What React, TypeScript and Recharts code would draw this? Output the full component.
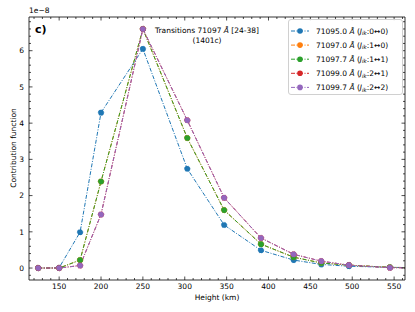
import React from "react";
import { LineChart, Line, XAxis, YAxis } from "recharts";

// heights in km, values in units of 1e-8
const heights = [125, 150, 175, 200, 250, 303, 347, 391, 430, 463, 496, 545, 600];
const cf71095_0 = [0, 0.01, 0.99, 4.29, 6.05, 2.74, 1.19, 0.49, 0.22, 0.1, 0.05, 0.02, 0];
const cf71097_0 = [0, 0, 0.22, 2.39, 6.6, 3.59, 1.6, 0.66, 0.3, 0.14, 0.08, 0.02, 0];
const cf71097_7 = [0, 0, 0.22, 2.39, 6.6, 3.59, 1.6, 0.66, 0.3, 0.14, 0.08, 0.02, 0];
const cf71099_0 = [0, 0, 0.07, 1.48, 6.6, 4.08, 1.94, 0.83, 0.38, 0.19, 0.08, 0.01, 0];
const cf71099_7 = [0, 0, 0.07, 1.48, 6.6, 4.08, 1.94, 0.83, 0.38, 0.19, 0.08, 0.01, 0];

const xMajorTicks = [150, 200, 250, 300, 350, 400, 450, 500, 550];
const yMajorTicks = [0, 1, 2, 3, 4, 5, 6];

const series = [
  { key: "a", wl: "71095.0", j: "0\u21940", color: "#1f77b4", values: cf71095_0 },
  { key: "b", wl: "71097.0", j: "1\u21940", color: "#ff7f0e", values: cf71097_0 },
  { key: "c", wl: "71097.7", j: "1\u21941", color: "#2ca02c", values: cf71097_7 },
  { key: "d", wl: "71099.0", j: "2\u21941", color: "#d62728", values: cf71099_0 },
  { key: "e", wl: "71099.7", j: "2\u21942", color: "#9467bd", values: cf71099_7 },
];

const rows = heights.map((h, i) => {
  const r: Record<string, number> = { h };
  series.forEach((s) => (r[s.key] = s.values[i]));
  return r;
});

// minor ticks: every 10 km and every 0.2e-8
const xTicks: number[] = [];
for (let v = 120; v <= 560; v += 10) xTicks.push(v);
const yTicks: number[] = [];
for (let k = -1; k <= 34; k++) yTicks.push(k / 5);

const FONT = "'DejaVu Sans', sans-serif";
const X_DOMAIN = [114, 563];
const Y_DOMAIN = [-0.33, 6.93];
const isMajorX = (v: number) => xMajorTicks.includes(v);
const isMajorY = (v: number) => Math.abs(v - Math.round(v)) < 1e-6 && yMajorTicks.includes(Math.round(v));

const XTick = (side: "bottom" | "top") => (p: any) => {
  const { x, y, payload } = p;
  const len = isMajorX(payload.value) ? 3.5 : 2;
  const dir = side === "bottom" ? -1 : 1;
  return (
    <g>
      <line x1={x} x2={x} y1={y} y2={y + dir * len} stroke="#000" strokeWidth={0.7} />
      {side === "bottom" && isMajorX(payload.value) && (
        <text x={x} y={y + 9} textAnchor="middle" fontSize={7.5} fontFamily={FONT} fill="#000">
          {payload.value}
        </text>
      )}
    </g>
  );
};

const YTick = (side: "left" | "right") => (p: any) => {
  const { x, y, payload } = p;
  const major = isMajorY(payload.value);
  const len = major ? 3.5 : 2;
  const dir = side === "left" ? 1 : -1;
  return (
    <g>
      <line x1={x} x2={x + dir * len} y1={y} y2={y} stroke="#000" strokeWidth={0.7} />
      {side === "left" && major && (
        <text x={x - 5} y={y + 2.7} textAnchor="end" fontSize={7.5} fontFamily={FONT} fill="#000">
          {Math.round(payload.value)}
        </text>
      )}
    </g>
  );
};

const LegendBox = () => (
  <div
    style={{
      position: "absolute",
      left: 288,
      top: 19,
      border: "1px solid #d0d0d0",
      borderRadius: 3,
      background: "rgba(255,255,255,0.85)",
      width: 115,
      height: 76,
      boxSizing: "border-box",
    }}
  >
    <svg width={113} height={74} style={{ display: "block" }}>
      {series.map((s, i) => {
        const cy = 11 + i * 14.1;
        return (
          <g key={s.key}>
            <line x1={2} x2={20} y1={cy} y2={cy} stroke={s.color} strokeWidth={1} strokeDasharray="4 1.5 1 1.5" />
            <circle cx={11} cy={cy} r={2.8} fill={s.color} />
            <text x={27} y={cy + 2.7} fontSize={7.5} fontFamily={FONT} fill="#000">
              {s.wl} <tspan fontStyle="italic">Å</tspan> (<tspan fontStyle="italic">J</tspan>
              <tspan fontStyle="italic" fontSize={5.5} dy={1.5}>ik</tspan>
              <tspan dy={-1.5}>:{s.j})</tspan>
            </text>
          </g>
        );
      })}
    </svg>
  </div>
);

const axisLine = { stroke: "#000", strokeWidth: 0.8 };

export default function App() {
  return (
    <div style={{ position: "relative", width: 415, height: 312, background: "#fff" }}>
      <style>{`body{margin:0}`}</style>
      <LineChart width={415} height={312} data={rows} margin={{ top: 16, right: 9, bottom: 31, left: 28 }}>
        <XAxis
          xAxisId="b"
          dataKey="h"
          type="number"
          domain={X_DOMAIN}
          allowDataOverflow
          ticks={xTicks}
          interval={0}
          height={1}
          tickSize={0}
          tickMargin={0}
          tickLine={false}
          axisLine={axisLine}
          tick={XTick("bottom")}
        />
        <XAxis
          xAxisId="t"
          orientation="top"
          dataKey="h"
          type="number"
          domain={X_DOMAIN}
          allowDataOverflow
          ticks={xTicks}
          interval={0}
          height={1}
          tickSize={0}
          tickMargin={0}
          tickLine={false}
          axisLine={axisLine}
          tick={XTick("top")}
        />
        <YAxis
          yAxisId="l"
          type="number"
          domain={Y_DOMAIN}
          allowDataOverflow
          ticks={yTicks}
          interval={0}
          width={1}
          tickSize={0}
          tickMargin={0}
          tickLine={false}
          axisLine={axisLine}
          tick={YTick("left")}
        />
        <YAxis
          yAxisId="r"
          orientation="right"
          type="number"
          domain={Y_DOMAIN}
          allowDataOverflow
          ticks={yTicks}
          interval={0}
          width={1}
          tickSize={0}
          tickMargin={0}
          tickLine={false}
          axisLine={axisLine}
          tick={YTick("right")}
        />
        {series.map((s) => (
          <Line
            key={s.key}
            xAxisId="b"
            yAxisId="l"
            dataKey={s.key}
            stroke={s.color}
            strokeWidth={1}
            strokeDasharray="4 1.5 1 1.5"
            dot={{ r: 2.8, fill: s.color, stroke: s.color, strokeWidth: 0.5 }}
            isAnimationActive={false}
          />
        ))}
      </LineChart>
      <LegendBox />
      <svg
        width={415}
        height={312}
        style={{ position: "absolute", left: 0, top: 0, pointerEvents: "none" }}
      >
        <text x={29} y={13} fontSize={7.5} fontFamily={FONT}>1e−8</text>
        <text x={35} y={33} fontSize={11} fontWeight="bold" fontFamily={FONT}>c)</text>
        <text x={207} y={33} textAnchor="middle" fontSize={7.5} fontFamily={FONT}>
          Transitions 71097 <tspan fontStyle="italic">Å</tspan> [24-38]
        </text>
        <text x={207} y={42.5} textAnchor="middle" fontSize={7.5} fontFamily={FONT}>(1401c)</text>
        <text x={217} y={300} textAnchor="middle" fontSize={7.5} fontFamily={FONT}>Height (km)</text>
        <text
          x={16}
          y={148}
          textAnchor="middle"
          fontSize={7.5}
          fontFamily={FONT}
          transform="rotate(-90 16 148)"
        >
          Contribution function
        </text>
      </svg>
    </div>
  );
}
